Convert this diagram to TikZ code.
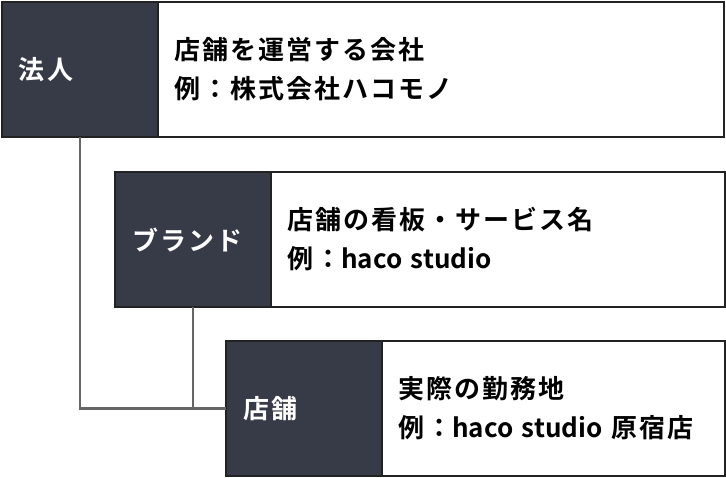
\documentclass[tikz,border=0pt]{standalone}
\usepackage{fontspec}
\setmainfont{Noto Sans CJK JP}[BoldFont={* Bold},LetterSpace=8]
\newfontfamily\latinas{Noto Sans CJK JP}[BoldFont={* Bold}]
\usetikzlibrary{positioning}
\definecolor{fondo}{HTML}{363B47}
\definecolor{borde}{HTML}{222222}
\definecolor{linea}{HTML}{666666}
\newcommand{\lat}[1]{{\latinas #1}}

\begin{document}
\begin{tikzpicture}
        [
        x=1pt, y=-1pt,
        font=\fontsize{26}{39}\selectfont\bfseries,
            etiqueta/.style={
                rectangle,
                draw=borde,
                line width=1.5pt,
                outer sep=0pt,
                fill=fondo,
                text=white,
                align=left,
                anchor=north west,
                inner xsep=17pt,
                inner ysep=0pt,
                text width=122pt,
                minimum height=135pt
            },
            detalle/.style={
                rectangle,
                draw=borde,
                line width=1.5pt,
                outer sep=0pt,
                fill=white,
                align=left,
                inner xsep=16pt,
                inner ysep=0pt,
                minimum height=135pt
            },
            lineaNivel/.style={
                draw=linea,
                line width=2.5pt
            }
        ]
        \useasboundingbox (0,0) rectangle (726,478);

        \node(hojin) [etiqueta] at (2,2) {法人};
        \node(hojinTxt) [detalle, text width=534pt, right=0pt of hojin] {店舗を運営する会社\\例：株式会社ハコモノ};

        \node(brand) [etiqueta] at (115,172) {ブランド};
        \node(brandTxt) [detalle, text width=422pt, right=0pt of brand] {店舗の看板・サービス名\\例：\lat{haco studio}};

        \node(tenpo) [etiqueta] at (226,341) {店舗};
        \node(tenpoTxt) [detalle, text width=311pt, right=0pt of tenpo] {実際の勤務地\\例：\lat{haco studio} 原宿店};

        \draw[lineaNivel] (hojin.south) |- (tenpo.west);
        \draw[lineaNivel] (brand.south) -- (brand.south |- tenpo.west);
    \end{tikzpicture}
\end{document}
